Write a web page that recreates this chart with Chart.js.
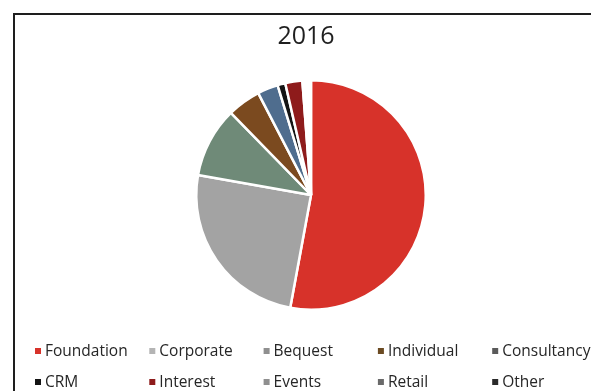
<!DOCTYPE html>
<html>
<head>
<meta charset="utf-8">
<script src="https://cdn.jsdelivr.net/npm/chart.js@4"></script>
<style>
  html, body { margin: 0; padding: 0; background: #fff; }
  body { width: 591px; height: 391px; overflow: hidden; position: relative; }
  #frame { position: absolute; left: 13px; top: 13px; width: 600px; height: 400px; border: 2px solid #1e1e1e; }
  #chart { display: block; }
</style>
</head>
<body>
<div id="frame"><canvas id="chart" width="600" height="400"></canvas></div>
<script>
// income sources, percent of total
var categories = ['Foundation', 'Corporate', 'Bequest', 'Individual', 'Consultancy',
                  'CRM', 'Interest', 'Events', 'Retail', 'Other'];
var shares = [52.9, 24.9, 9.9, 4.7, 2.9, 1.1, 2.4, 0.5, 0.4, 0.3];
var sliceColors = ['#d7322a', '#a3a3a3', '#6f8a78', '#7b4a1f', '#4f6d8e',
                   '#141414', '#8e1b1b', '#ffffff', '#ffffff', '#ffffff'];
var keyColors = ['#d7322a', '#b4b4b4', '#8f8f8f', '#6b4a22', '#5a5a5a',
                 '#141414', '#8e1b1b', '#8f8f8f', '#6a6a6a', '#2a2a2a'];
var chartTitle = '2016';

// title and a 5-column key drawn on the canvas
var gridKey = {
    id: 'gridKey',
    afterDraw: function(chart) {
        var ctx = chart.ctx;
        ctx.save();
        ctx.fillStyle = '#1f1f1f';
        ctx.font = '25px "Open Sans"';
        ctx.textAlign = 'center';
        ctx.textBaseline = 'middle';
        ctx.fillText(chartTitle, 291, 22);

        ctx.font = '15.5px "Open Sans"';
        ctx.textAlign = 'left';
        chart.data.labels.forEach(function(label, i) {
            var col = i % 5, row = Math.floor(i / 5);
            var x = 20 + col * 114.3;
            var y = 336 + row * 31;
            ctx.fillStyle = keyColors[i];
            ctx.fillRect(x, y - 3, 6, 6);
            ctx.fillStyle = '#262626';
            ctx.fillText(label, x + 10, y + 1);
        });
        ctx.restore();
    }
};

var ctx = document.getElementById('chart').getContext('2d');
var chart = new Chart(ctx, {
    type: 'pie',
    data: {
        labels: categories,
        datasets: [{
            data: shares,
            backgroundColor: sliceColors,
            borderColor: '#ffffff',
            borderWidth: 2.5
        }]
    },
    options: {
        responsive: false,
        animation: false,
        layout: { padding: { left: 180, right: 188, top: 64, bottom: 104 } },
        plugins: {
            legend: { display: false },
            tooltip: { enabled: false }
        }
    },
    plugins: [gridKey]
});
</script>
</body>
</html>
